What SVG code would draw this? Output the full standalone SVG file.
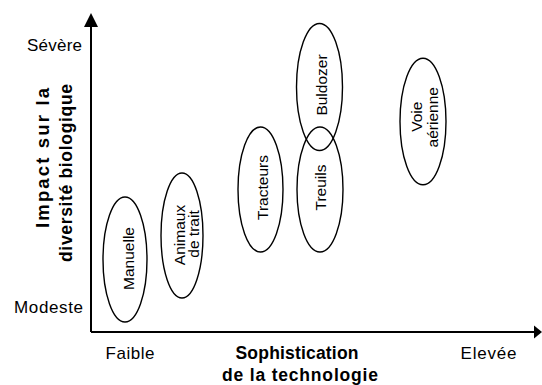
<svg xmlns="http://www.w3.org/2000/svg" width="542" height="385" viewBox="0 0 542 385">
<style>
.lbl{font-family:"Liberation Sans",Arial,sans-serif;font-size:17px;fill:#000}
.ttl{font-family:"Liberation Sans",Arial,sans-serif;font-size:17.5px;font-weight:bold;fill:#000}
.nd{font-family:"Liberation Sans",Arial,sans-serif;font-size:15.5px;fill:#000;text-anchor:middle}
.ell{fill:none;stroke:#000;stroke-width:1.4}
.axis{fill:none;stroke:#000;stroke-width:2}
</style>
<rect width="542" height="385" fill="#fff"/>
<g id="axes">
<path class="axis" d="M91,332 V26 M91,332 H535"/>
<polygon points="91,13 84,27 98,27" fill="#000"/>
<polygon points="542,332 534,325.5 534,338.5" fill="#000"/>
</g>
<g id="axis-labels">
<text class="lbl" x="82" y="51" text-anchor="end" textLength="55" lengthAdjust="spacing">Sévère</text>
<text class="lbl" x="83" y="312.7" text-anchor="end" textLength="69" lengthAdjust="spacing">Modeste</text>
<text class="lbl" x="105.5" y="358.7" textLength="49" lengthAdjust="spacing">Faible</text>
<text class="lbl" x="460.5" y="358.7" textLength="56" lengthAdjust="spacing">Elevée</text>
<text class="ttl" x="235.5" y="358.7" textLength="123" lengthAdjust="spacing">Sophistication</text>
<text class="ttl" x="222" y="381" textLength="156" lengthAdjust="spacing">de la technologie</text>
<text class="ttl" transform="translate(49,228) rotate(-90)" style="font-size:18.5px" textLength="140" lengthAdjust="spacing">Impact sur la</text>
<text class="ttl" transform="translate(71.5,262) rotate(-90)" textLength="178" lengthAdjust="spacing">diversité biologique</text>
</g>
<g id="manuelle">
<ellipse class="ell" cx="125" cy="259.5" rx="22" ry="62.5"/>
<text class="nd" transform="translate(134,258.5) rotate(-90)">Manuelle</text>
</g>
<g id="animaux">
<ellipse class="ell" cx="182" cy="235.5" rx="21" ry="62.5"/>
<text class="nd" transform="translate(185,235) rotate(-90)">Animaux</text>
<text class="nd" transform="translate(199.3,234) rotate(-90)">de trait</text>
</g>
<g id="tracteurs">
<ellipse class="ell" cx="260.5" cy="189.5" rx="22.5" ry="62.5"/>
<text class="nd" transform="translate(268.3,187.5) rotate(-90)">Tracteurs</text>
</g>
<g id="treuils">
<ellipse class="ell" cx="320" cy="189.5" rx="23" ry="62.5"/>
<text class="nd" transform="translate(326,187.5) rotate(-90)">Treuils</text>
</g>
<g id="buldozer">
<ellipse class="ell" cx="319.5" cy="87" rx="23" ry="63.5"/>
<text class="nd" transform="translate(326.5,85) rotate(-90)">Buldozer</text>
</g>
<g id="voie">
<ellipse class="ell" cx="423" cy="121.5" rx="23" ry="63.3"/>
<text class="nd" transform="translate(421.7,116.7) rotate(-90)">Voie</text>
<text class="nd" transform="translate(438,117.3) rotate(-90)">aérienne</text>
</g>
<g id="connectors"></g>
</svg>
